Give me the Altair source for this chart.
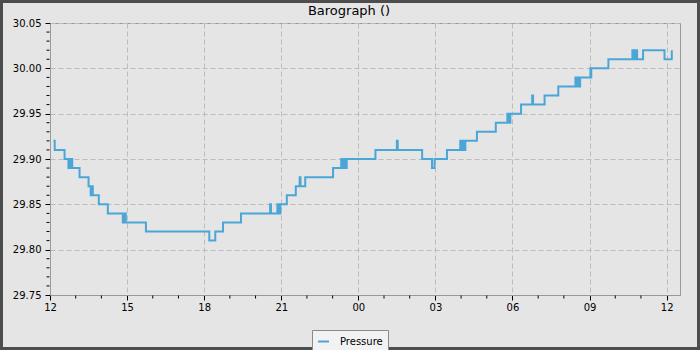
import altair as alt
import pandas as pd

# ---- data ----
times = [
    "12:08", "12:11", "12:34", "12:43", "12:45", "12:48", "12:50", "12:52", "13:09", "13:30",
    "13:35", "13:37", "13:40", "13:54", "14:15", "14:50", "14:52", "14:54", "14:56", "14:57",
    "15:44", "18:12", "18:26", "18:44", "19:26", "20:34", "20:36", "20:51", "20:53", "20:55",
    "20:57", "20:58", "21:13", "21:34", "21:43", "21:45", "21:56", "23:01", "23:20", "23:23",
    "23:26", "23:29", "23:33", "00:40", "01:30", "01:32", "02:29", "02:52", "02:58", "03:27",
    "03:58", "04:01", "04:04", "04:06", "04:10", "04:37", "05:21", "05:48", "05:50", "05:52",
    "05:54", "05:55", "06:20", "06:46", "06:48", "07:15", "07:47", "08:27", "08:29", "08:32",
    "08:35", "08:38", "09:02", "09:03", "09:04", "09:44", "10:40", "10:42", "10:44", "10:46",
    "10:48", "10:51", "11:05", "11:55", "12:12",
]
pressure = [
    29.92, 29.91, 29.90, 29.89, 29.90, 29.89, 29.90, 29.89, 29.88, 29.87,
    29.86, 29.87, 29.86, 29.85, 29.84, 29.83, 29.84, 29.83, 29.84, 29.83,
    29.82, 29.81, 29.82, 29.83, 29.84, 29.85, 29.84, 29.85, 29.84, 29.85,
    29.84, 29.85, 29.86, 29.87, 29.88, 29.87, 29.88, 29.89, 29.90, 29.89,
    29.90, 29.89, 29.90, 29.91, 29.92, 29.91, 29.90, 29.89, 29.90, 29.91,
    29.92, 29.91, 29.92, 29.91, 29.92, 29.93, 29.94, 29.95, 29.94, 29.95,
    29.94, 29.95, 29.96, 29.97, 29.96, 29.97, 29.98, 29.99, 29.98, 29.99,
    29.98, 29.99, 30.00, 29.99, 30.00, 30.01, 30.02, 30.01, 30.02, 30.01,
    30.02, 30.01, 30.02, 30.01, 30.02,
]
series_name = "Pressure"
chart_title = "Barograph ()"
y_major = [29.75, 29.80, 29.85, 29.90, 29.95, 30.00, 30.05]
y_minor = [round(29.75 + 0.01 * i, 2) for i in range(31)]
start_day = "2024-03-01"
x_major_hours = [0, 3, 6, 9, 12, 15, 18, 21, 24]   # hours after 12:00
x_minor_hours = list(range(0, 25))
x_end_hours = 24.52

# ---- build tables ----
base = pd.Timestamp(start_day + " 12:00", tz="UTC")
stamps = []
day = 0
prev = None
for t in times:
    hh, mm = map(int, t.split(":"))
    if prev is not None and (hh, mm) < prev:
        day += 1
    prev = (hh, mm)
    ts = pd.Timestamp(start_day, tz="UTC") + pd.Timedelta(days=day, hours=hh, minutes=mm)
    stamps.append(ts.strftime("%Y-%m-%dT%H:%M:%SZ"))
df = pd.DataFrame({"t": stamps, "p": pressure, "series": [series_name] * len(times)})


def ms(h):
    return int((base + pd.Timedelta(hours=h)).value // 10**6)


df_xminor = pd.DataFrame({"t": [ms(h) for h in x_minor_hours if h % 3 != 0]})
df_yminor = pd.DataFrame({"p": [v for v in y_minor if v not in y_major]})

x_domain = [ms(0), ms(x_end_hours)]
x_scale = alt.Scale(type="utc", domain=x_domain, nice=False)
y_scale = alt.Scale(domain=[29.75, 30.05], nice=False, zero=False)

FONT = "DejaVu Sans"
line_color = "#4ba6d8"

line = alt.Chart(df).mark_line(interpolate="step-after", strokeWidth=2, clip=True).encode(
    x=alt.X("t:T", scale=x_scale, title=None,
            axis=alt.Axis(values=[ms(h) for h in x_major_hours],
                          labelExpr="utcFormat(datum.value, '%H')",
                          grid=True, gridDash=[5, 3], gridColor="#bcbcbc", tickSize=5,
                          labelPadding=2, orient="bottom")),
    y=alt.Y("p:Q", scale=y_scale, title=None,
            axis=alt.Axis(values=y_major, format=".2f", grid=True, gridDash=[5, 3],
                          gridColor="#bcbcbc", tickSize=5, labelPadding=4, orient="left")),
    color=alt.Color("series:N", scale=alt.Scale(range=[line_color]), title=None,
                    legend=alt.Legend(orient="none", legendX=262, legendY=307,
                                      symbolType="stroke", symbolSize=121, symbolStrokeWidth=2,
                                      labelFont=FONT, labelFontSize=10, labelColor="black",
                                      fillColor="#f2f2f2", strokeColor="#8a8a8a",
                                      padding=5, labelOffset=10)),
)

x_minor_ticks = alt.Chart(df_xminor).mark_rule(color="black", strokeWidth=1, clip=False).encode(
    x=alt.X("t:T", scale=x_scale), y=alt.value(272.5), y2=alt.value(275.5)
)
y_minor_ticks = alt.Chart(df_yminor).mark_rule(color="black", strokeWidth=1, clip=False).encode(
    y=alt.Y("p:Q", scale=y_scale), x=alt.value(-3.5), x2=alt.value(-0.5)
)

title_text = alt.Chart(pd.DataFrame({"title": [chart_title]})).mark_text(
    font=FONT, fontSize=13, color="black", align="center", baseline="alphabetic", clip=False
).encode(x=alt.value(299), y=alt.value(-8), text="title:N")

frame = alt.Chart(df).mark_rect(filled=False, stroke="#4d4d4d", strokeWidth=3, fill=None).encode(
    x=alt.value(-48.5), x2=alt.value(648.5), y=alt.value(-21.5), y2=alt.value(325.5)
)

chart = alt.layer(line, x_minor_ticks, y_minor_ticks, title_text, frame).properties(
    width=630, height=272,
    autosize=alt.AutoSizeParams(type="none"),
    padding={"left": 50, "top": 23, "right": 20, "bottom": 55},
    background="#e5e5e5",
).configure_view(
    stroke="#999999", strokeWidth=1, fill="#e5e5e5"
).configure_axis(
    labelFont=FONT, labelFontSize=10, labelColor="black", tickColor="black",
    domainColor="#999999", labelFlush=False, labelOverlap=False
)

chart.save("out.html", embed_options={"renderer": "svg", "actions": False})
